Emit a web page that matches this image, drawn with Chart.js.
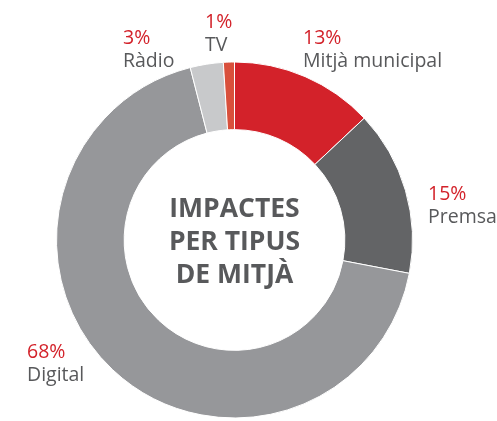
<!DOCTYPE html>
<html>
<head>
<meta charset="utf-8">
<script src="https://cdn.jsdelivr.net/npm/chart.js@4/dist/chart.umd.min.js"></script>
<style>
  html, body { margin: 0; padding: 0; background: #fff; }
  #wrap { width: 497px; height: 421px; position: relative; }
</style>
</head>
<body>
<div id="wrap"><canvas id="grafic"></canvas></div>
<script>
// Impactes per tipus de mitjà (%)
const mitjans = ['Mitjà municipal', 'Premsa', 'Digital', 'Ràdio', 'TV'];
const percentatges = [13, 15, 68, 3, 1];
const colors = ['#d3222a', '#636466', '#96979a', '#c8c9cb', '#d9503c'];
const titol = ['IMPACTES', 'PER TIPUS', 'DE MITJÀ'];

// where each label block sits (x, baseline of the percentage line)
const posEtiquetes = [
  [303, 44], [428, 200], [27, 358], [123, 44], [205, 28]
];

const GRIS = '#58595b';
const VERMELL = '#d3222a';

const etiquetes = {
  id: 'etiquetes',
  afterDraw(chart) {
    const ctx = chart.ctx;
    const meta = chart.getDatasetMeta(0);
    const arc = meta.data[0];
    ctx.save();

    // text al centre del donut
    ctx.fillStyle = GRIS;
    ctx.font = 'bold 26.5px "Open Sans"';
    ctx.textAlign = 'center';
    ctx.textBaseline = 'alphabetic';
    titol.forEach((linia, i) => {
      ctx.fillText(linia, arc.x, arc.y - 23 + i * 33);
    });

    // percentatge + nom de cada mitjà
    ctx.textAlign = 'left';
    ctx.font = '19.5px "Open Sans"';
    mitjans.forEach((nom, i) => {
      const [x, y] = posEtiquetes[i];
      ctx.fillStyle = VERMELL;
      ctx.fillText(percentatges[i] + '%', x, y);
      ctx.fillStyle = GRIS;
      ctx.fillText(nom, x, y + 22.5);
    });
    ctx.restore();
  }
};

new Chart(document.getElementById('grafic'), {
  type: 'doughnut',
  data: {
    labels: mitjans,
    datasets: [{
      data: percentatges,
      backgroundColor: colors,
      borderColor: '#ffffff',
      borderWidth: 1
    }]
  },
  options: {
    responsive: true,
    maintainAspectRatio: false,
    animation: false,
    cutout: '62%',
    layout: {
      padding: { left: 56, right: 84, top: 61, bottom: 2 }
    },
    plugins: {
      legend: { display: false },
      tooltip: { enabled: false }
    }
  },
  plugins: [etiquetes]
});
</script>
</body>
</html>
